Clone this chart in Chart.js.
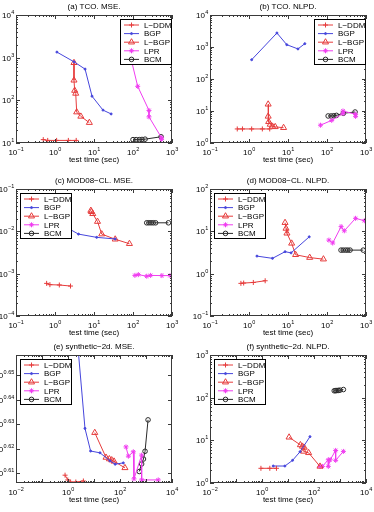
<!DOCTYPE html>
<html>
<head>
<meta charset="utf-8">
<script src="https://cdn.jsdelivr.net/npm/chart.js@4.4.0/dist/chart.umd.min.js"></script>
<style>
  html, body { margin: 0; padding: 0; background: #fff; }
  #wrap { position: relative; width: 374px; height: 512px; overflow: hidden; }
  #wrap canvas { position: absolute; left: 0; top: 0; }
</style>
</head>
<body>
<div id="wrap"></div>
<script>
// ================================
// DATA  (pairs are [test time (sec), error])
// ================================

const methods = ['L−DDM', 'BGP', 'L−BGP', 'LPR', 'BCM'];

// (a) TCO, MSE
const tcoMseLddm = [[0.5, 12], [0.65, 11.5], [1.1, 11.5], [2.2, 11.5], [3.5, 11.5]];
const tcoMseBgp  = [[1.12, 1350], [3.07, 800], [5.9, 540], [8.9, 125], [17, 59], [27.5, 48]];
const tcoMseLbgp = [[3.07, 760], [3.07, 295], [3.2, 170], [3.4, 145], [3.6, 53], [4.6, 42], [7.6, 30]];
const tcoMseLpr  = [[68, 2600], [132, 213], [257, 58], [257, 41], [540, 13.2], [540, 12.2]];
const tcoMseBcm  = [[100, 12], [120, 12], [145, 12], [170, 12.1], [204, 12.3], [525, 14]];

// (b) TCO, NLPD
const tcoNlpdLddm = [[0.5, 2.75], [0.68, 2.75], [1.17, 2.75], [2.2, 2.75], [3.4, 2.75]];
const tcoNlpdBgp  = [[1.17, 400], [5.2, 2740], [9.3, 1180], [18, 870], [27, 1270]];
const tcoNlpdLbgp = [[3.1, 16.2], [3.1, 6.8], [3.2, 4.6], [3.5, 3.8], [4, 3.3], [4.7, 3.2], [7.7, 3.0]];
const tcoNlpdLpr  = [[68, 3.6], [132, 5.1], [257, 8.3], [257, 10], [540, 7.9], [540, 6.8]];
const tcoNlpdBcm  = [[107, 7], [128, 7], [150, 7.1], [175, 7.3], [262, 8.5], [525, 9.3]];

// (c) MOD08-CL, MSE
const modMseLddm = [[0.61, 5.9e-4], [0.74, 5.5e-4], [1.29, 5.4e-4], [2.5, 5.1e-4]];
const modMseBgp  = [[1.6, 0.014], [2.2, 0.0117], [4, 0.0086], [11.7, 0.0072], [35, 0.0066]];
const modMseLbgp = [[8.3, 0.031], [8.6, 0.029], [9.3, 0.026], [12.3, 0.017], [15.8, 0.0086], [35, 0.0065], [81, 0.0051]];
const modMseLpr  = [[112, 9.1e-4], [137, 9.5e-4], [225, 8.7e-4], [283, 9.1e-4], [550, 9.0e-4], [890, 9.0e-4]];
const modMseBcm  = [[225, 0.0159], [255, 0.0159], [290, 0.0159], [330, 0.0159], [380, 0.0159], [810, 0.0159]];

// (d) MOD08-CL, NLPD
const modNlpdLddm = [[0.62, 0.59], [0.73, 0.6], [1.29, 0.62], [2.6, 0.68]];
const modNlpdBgp  = [[1.6, 2.6], [4, 2.3], [8.4, 3.3], [12, 3.1], [35, 7.4]];
const modNlpdLbgp = [[8.4, 16], [8.9, 11.7], [9.4, 9], [12.4, 5.2], [15.7, 2.8], [36, 2.4], [81, 2.2]];
const modNlpdLpr  = [[112, 6.2], [140, 5.3], [230, 12.9], [278, 10.3], [540, 20.3], [910, 17.8]];
const modNlpdBcm  = [[229, 3.6], [260, 3.6], [300, 3.6], [340, 3.6], [390, 3.6], [850, 3.6]];

// (e) synthetic-2d, MSE
const synMseLddm = [[0.77, 4.067], [0.98, 4.049], [1.26, 4.041], [2.0, 4.041], [3.9, 4.045]];
const synMseBgp  = [[2.25, 4.624], [4.5, 4.249], [7.4, 4.160], [17, 4.153], [41, 4.122], [65, 4.109], [134, 4.114]];
const synMseLbgp = [[10.7, 4.232], [29, 4.135], [39, 4.129], [48, 4.125], [59, 4.120], [155, 4.095]];
const synMseLpr  = [[170, 4.176], [210, 4.140], [325, 4.157], [345, 4.053], [680, 4.144], [680, 4.049], [2950, 4.049]];
const synMseBcm  = [[550, 4.081], [680, 4.110], [800, 4.129], [920, 4.159], [1200, 4.283]];

// (f) synthetic-2d, NLPD
const synNlpdLddm = [[0.91, 2.21], [2.0, 2.21], [3.6, 2.21]];
const synNlpdBgp  = [[2.7, 2.5], [7.6, 2.5], [15, 3.4], [29, 5.4], [70, 12.2]];
const synNlpdLbgp = [[11, 11.8], [30, 7.8], [36, 7.2], [42, 6.8], [40, 5.5], [62, 5.1], [170, 2.45]];
const synNlpdLpr  = [[170, 2.45], [210, 2.45], [355, 3.5], [355, 2.45], [420, 3.5], [680, 5.8], [680, 3.4], [1350, 5.5]];
const synNlpdBcm  = [[600, 145], [680, 146], [760, 147], [860, 148], [1000, 150], [1350, 155]];

// tick label exponents (10^e)
const xExpsTime  = [-1, 0, 1, 2, 3];
const xExpsSyn   = [-2, 0, 2, 4];
const yExpsTcoMse  = [1, 2, 3, 4];
const yExpsTcoNlpd = [0, 1, 2, 3, 4];
const yExpsModMse  = [-4, -3, -2, -1];
const yExpsModNlpd = [-1, 0, 1, 2];
const yExpsSynMse  = [0.61, 0.62, 0.63, 0.64, 0.65];
const yExpsSynNlpd = [0, 1, 2, 3];

// ================================
// STYLE
// ================================

const W = 374, H = 512;
const FONT = '"Liberation Sans", Arial, sans-serif';
const red = '#e63c3c', blue = '#4646dc', magenta = '#f03cf0', black = '#2a2a2a';
const axisColor = '#3a3a3a';

const seriesStyle = [
    { color: red,     pointStyle: 'cross',    radius: 2.5, filled: false },
    { color: blue,    pointStyle: 'circle',   radius: 1,   filled: true },
    { color: red,     pointStyle: 'triangle', radius: 3.5, filled: false },
    { color: magenta, pointStyle: 'star',     radius: 2.5, filled: true },
    { color: black,   pointStyle: 'circle',   radius: 2.3, filled: false }
];

const panels = [
    { title: '(a) TCO. MSE.', box: [16, 15, 172, 143], legend: 'right',
      x: [1e-1, 1e3], y: [1e1, 1e4], xExps: xExpsTime, yExps: yExpsTcoMse,
      series: [tcoMseLddm, tcoMseBgp, tcoMseLbgp, tcoMseLpr, tcoMseBcm] },
    { title: '(b) TCO. NLPD.', box: [210, 15, 366, 143], legend: 'right',
      x: [1e-1, 1e3], y: [1e0, 1e4], xExps: xExpsTime, yExps: yExpsTcoNlpd,
      series: [tcoNlpdLddm, tcoNlpdBgp, tcoNlpdLbgp, tcoNlpdLpr, tcoNlpdBcm] },
    { title: '(c) MOD08−CL. MSE.', box: [16, 189, 172, 316], legend: 'left',
      x: [1e-1, 1e3], y: [1e-4, 1e-1], xExps: xExpsTime, yExps: yExpsModMse,
      series: [modMseLddm, modMseBgp, modMseLbgp, modMseLpr, modMseBcm] },
    { title: '(d) MOD08−CL. NLPD.', box: [210, 189, 366, 316], legend: 'left',
      x: [1e-1, 1e3], y: [1e-1, 1e2], xExps: xExpsTime, yExps: yExpsModNlpd,
      series: [modNlpdLddm, modNlpdBgp, modNlpdLbgp, modNlpdLpr, modNlpdBcm] },
    { title: '(e) synthetic−2d. MSE.', box: [16, 355, 172, 483], legend: 'left',
      x: [1e-2, 1e4], y: [Math.pow(10, 0.6061), Math.pow(10, 0.6581)], xExps: xExpsSyn, yExps: yExpsSynMse,
      yMinor: false,
      series: [synMseLddm, synMseBgp, synMseLbgp, synMseLpr, synMseBcm] },
    { title: '(f) synthetic−2d. NLPD.', box: [210, 355, 366, 483], legend: 'left',
      x: [1e-2, 1e4], y: [1e0, 1e3], xExps: xExpsSyn, yExps: yExpsSynNlpd,
      series: [synNlpdLddm, synNlpdBgp, synNlpdLbgp, synNlpdLpr, synNlpdBcm] }
];

// ================================
// DRAW HELPERS
// ================================

// "10" with a raised exponent
function drawPow(ctx, e, x, y, align) {
    const expTxt = String(e).replace('-', '−');
    ctx.font = '8px ' + FONT;
    const bw = ctx.measureText('10').width;
    ctx.font = '5.5px ' + FONT;
    const ew = ctx.measureText(expTxt).width;
    const x0 = align === 'center' ? x - (bw + ew) / 2 : x - bw - ew;
    ctx.textAlign = 'left';
    ctx.textBaseline = 'alphabetic';
    ctx.font = '8px ' + FONT;
    ctx.fillText('10', x0, y);
    ctx.font = '5.5px ' + FONT;
    ctx.fillText(expTxt, x0 + bw + 0.3, y - 4);
}

// major + minor tick values for a log axis
function logTicks(min, max) {
    const out = [];
    const lo = Math.floor(Math.log10(min) + 1e-9), hi = Math.ceil(Math.log10(max) - 1e-9);
    for (let e = lo; e <= hi; e++) {
        for (let m = 1; m <= 9; m++) {
            const v = m * Math.pow(10, e);
            if (v >= min * 0.9999 && v <= max * 1.0001) out.push({ v, major: m === 1 });
        }
    }
    return out;
}

function axesPlugin(p) {
    return {
        id: 'matlabAxes',
        afterDatasetsDraw(chart) {
            const ctx = chart.ctx;
            const xs = chart.scales.x, ys = chart.scales.y;
            const { left, right, top, bottom } = chart.chartArea;
            ctx.save();

            // frame
            ctx.strokeStyle = axisColor;
            ctx.lineWidth = 1;
            ctx.strokeRect(Math.round(left) + 0.5, Math.round(top) + 0.5,
                Math.round(right - left) - 1, Math.round(bottom - top) - 1);

            // ticks inward on all four sides
            ctx.beginPath();
            logTicks(p.x[0], p.x[1]).forEach(t => {
                const px = Math.round(xs.getPixelForValue(t.v)) + 0.5;
                const len = t.major ? 4 : 2;
                ctx.moveTo(px, bottom); ctx.lineTo(px, bottom - len);
                ctx.moveTo(px, top); ctx.lineTo(px, top + len);
            });
            const yt = p.yMinor === false
                ? p.yExps.map(e => ({ v: Math.pow(10, e), major: true }))
                : logTicks(p.y[0], p.y[1]);
            yt.forEach(t => {
                const py = Math.round(ys.getPixelForValue(t.v)) + 0.5;
                const len = t.major ? 4 : 2;
                ctx.moveTo(left, py); ctx.lineTo(left + len, py);
                ctx.moveTo(right, py); ctx.lineTo(right - len, py);
            });
            ctx.stroke();

            // tick labels
            ctx.fillStyle = '#000';
            p.xExps.forEach(e => drawPow(ctx, e, xs.getPixelForValue(Math.pow(10, e)), bottom + 12, 'center'));
            p.yExps.forEach(e => drawPow(ctx, e, left - 2, ys.getPixelForValue(Math.pow(10, e)) + 3, 'right'));

            // title and axis label
            ctx.textAlign = 'center';
            ctx.font = '8px ' + FONT;
            ctx.fillText(p.title, (left + right) / 2, top - 6);
            ctx.fillText('test time (sec)', (left + right) / 2, bottom + 19);

            // legend box
            const lw = 51, lh = 45;
            const lx = p.legend === 'right' ? Math.round(right) - lw - 1 : Math.round(left) + 4;
            const ly = Math.round(top) + 4;
            ctx.fillStyle = '#fff';
            ctx.fillRect(lx, ly, lw, lh);
            ctx.strokeStyle = '#000';
            ctx.strokeRect(lx + 0.5, ly + 0.5, lw, lh);
            methods.forEach((name, i) => {
                const st = seriesStyle[i];
                const yy = ly + 6 + i * 8.6;
                ctx.strokeStyle = st.color;
                ctx.lineWidth = 1;
                ctx.beginPath();
                ctx.moveTo(lx + 4, yy); ctx.lineTo(lx + 19, yy);
                ctx.stroke();
                ctx.fillStyle = st.filled ? st.color : 'rgba(0,0,0,0)';
                Chart.helpers.drawPoint(ctx, { pointStyle: st.pointStyle, radius: st.radius, rotation: 0, borderWidth: 1 }, lx + 11.5, yy);
                ctx.fillStyle = '#000';
                ctx.font = '8px ' + FONT;
                ctx.textAlign = 'left';
                ctx.textBaseline = 'middle';
                ctx.fillText(name, lx + 24, yy + 0.5);
            });
            ctx.restore();
        }
    };
}

// ================================
// BUILD CHARTS
// ================================

const wrap = document.getElementById('wrap');

panels.forEach(p => {
    const canvas = document.createElement('canvas');
    canvas.width = W;
    canvas.height = H;
    wrap.appendChild(canvas);

    new Chart(canvas, {
        type: 'scatter',
        data: {
            datasets: p.series.map((pts, i) => {
                const st = seriesStyle[i];
                return {
                    label: methods[i],
                    data: pts.map(([x, y]) => ({ x, y })),
                    showLine: true,
                    borderColor: st.color,
                    backgroundColor: st.color,
                    borderWidth: 1,
                    pointStyle: st.pointStyle,
                    pointRadius: st.radius,
                    pointBorderWidth: 1,
                    pointBorderColor: st.color,
                    pointBackgroundColor: st.filled ? st.color : 'rgba(0,0,0,0)'
                };
            })
        },
        options: {
            responsive: false,
            animation: false,
            events: [],
            layout: {
                padding: { left: p.box[0], top: p.box[1], right: W - p.box[2], bottom: H - p.box[3] }
            },
            scales: {
                x: { type: 'logarithmic', min: p.x[0], max: p.x[1], display: false },
                y: { type: 'logarithmic', min: p.y[0], max: p.y[1], display: false }
            },
            plugins: {
                legend: { display: false },
                tooltip: { enabled: false }
            }
        },
        plugins: [axesPlugin(p)]
    });
});
</script>
</body>
</html>
